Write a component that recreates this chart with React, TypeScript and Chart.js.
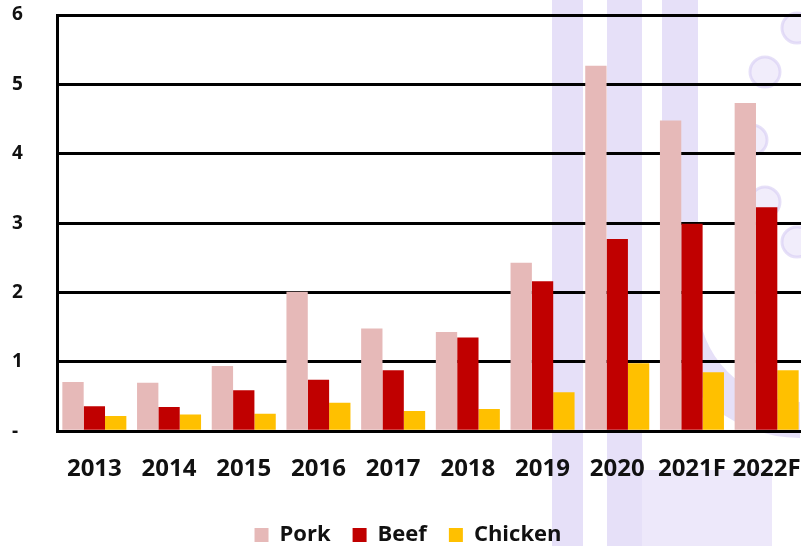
import React, { useEffect, useRef } from "react";
import { Chart, registerables } from "chart.js";

Chart.register(...registerables);

const categories = ["2013", "2014", "2015", "2016", "2017", "2018", "2019", "2020", "2021F", "2022F"];
const porkValues = [0.71, 0.70, 0.94, 2.01, 1.48, 1.43, 2.43, 5.27, 4.48, 4.73];
const beefValues = [0.36, 0.35, 0.59, 0.74, 0.88, 1.35, 2.16, 2.77, 2.99, 3.23];
const chickenValues = [0.22, 0.24, 0.25, 0.41, 0.29, 0.32, 0.56, 0.98, 0.85, 0.88];
const yTicks = [0, 1, 2, 3, 4, 5, 6];

const FONT = "'Open Sans', 'DejaVu Sans', sans-serif";

const watermark = {
  id: "watermark",
  beforeDraw(chart: any) {
    const ctx = chart.ctx;
    ctx.save();
    ctx.fillStyle = "rgba(214, 204, 243, 0.6)";
    ctx.fillRect(552, 0, 31, 546);
    ctx.fillRect(607, 0, 35, 546);
    ctx.fillRect(662, 0, 36, 300);
    ctx.strokeStyle = "rgba(214, 204, 243, 0.6)";
    ctx.lineWidth = 36;
    ctx.beginPath();
    ctx.arc(800, 300, 120, Math.PI, Math.PI / 2, true);
    ctx.stroke();
    ctx.fillStyle = "rgba(214, 204, 243, 0.45)";
    ctx.fillRect(642, 470, 130, 76);
    ctx.lineWidth = 3;
    ctx.strokeStyle = "rgba(214, 204, 243, 0.6)";
    ctx.fillStyle = "rgba(224, 216, 246, 0.45)";
    const dots = [[797, 28], [765, 72], [752, 140], [765, 202], [797, 242]];
    for (const [x, y] of dots) {
      ctx.beginPath();
      ctx.arc(x, y, 15, 0, Math.PI * 2);
      ctx.fill();
      ctx.stroke();
    }
    ctx.restore();
  },
};

export default function App() {
  const ref = useRef<HTMLCanvasElement | null>(null);
  useEffect(() => {
    if (!ref.current) return;
    const chart = new Chart(ref.current, {
      type: "bar",
      data: {
        labels: categories,
        datasets: [
          { label: "Pork", data: porkValues, backgroundColor: "#E6B9B8" },
          { label: "Beef", data: beefValues, backgroundColor: "#C00000" },
          { label: "Chicken", data: chickenValues, backgroundColor: "#FFC000" },
        ],
      },
      options: {
        responsive: false,
        animation: false,
        layout: { padding: { top: 15, right: 24, left: 12, bottom: -10 } },
        datasets: { bar: { categoryPercentage: 0.857, barPercentage: 1 } },
        plugins: {
          tooltip: { enabled: false },
          legend: {
            position: "bottom",
            labels: {
              boxWidth: 14,
              boxHeight: 14,
              padding: 22,
              color: "#111",
              font: { family: FONT, size: 22, weight: "bold" },
            },
          },
        },
        scales: {
          x: {
            grid: { display: false },
            border: { color: "#000", width: 3 },
            afterFit: (s: any) => {
              s.height = s.height + 2;
            },
            ticks: {
              color: "#111",
              padding: 16,
              font: { family: FONT, size: 24, weight: "bold" },
              maxRotation: 0,
              autoSkip: false,
            },
          },
          y: {
            min: 0,
            max: 6,
            afterFit: (s: any) => {
              s.width = 45;
            },
            afterBuildTicks: (s: any) => {
              s.ticks = yTicks.map((v) => ({ value: v }));
            },
            grid: { color: "#000", lineWidth: 3, drawTicks: false },
            border: { color: "#000", width: 3 },
            ticks: {
              color: "#111",
              padding: 0,
              crossAlign: "far",
              font: { family: FONT, size: 19, weight: "bold" },
              callback: (v: any) => (Number(v) === 0 ? "-" : String(v)),
            },
          },
        },
      },
      plugins: [watermark],
    });
    return () => chart.destroy();
  }, []);
  return (
    <div style={{ position: "absolute", left: 0, top: 0, width: 801, height: 546, overflow: "hidden", background: "#fff" }}>
      <canvas ref={ref} width={828} height={546} style={{ display: "block", width: 828, height: 546 }} />
    </div>
  );
}
